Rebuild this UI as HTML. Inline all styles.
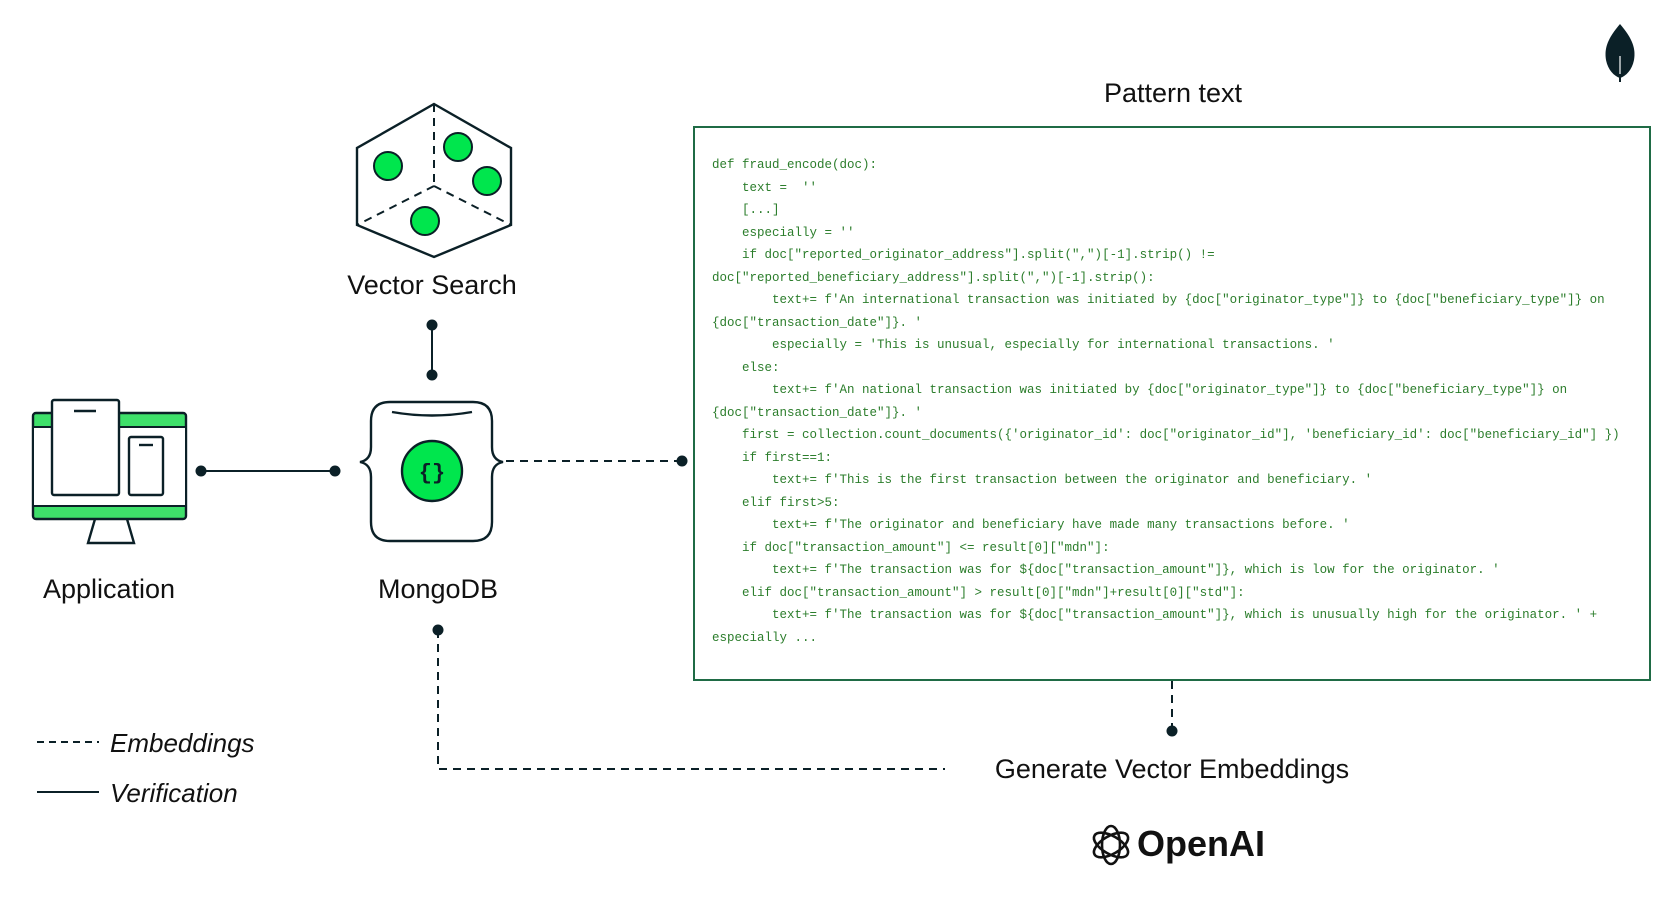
<!DOCTYPE html>
<html><head><meta charset="utf-8"><style>
html,body{margin:0;padding:0;background:#fff;}
body{width:1680px;height:910px;position:relative;overflow:hidden;font-family:"Liberation Sans",sans-serif;}
.lbl{position:absolute;font-size:27px;color:#111;white-space:nowrap;transform:translateX(-50%);line-height:1;}
.code{position:absolute;left:712px;top:154px;font-family:"Liberation Mono",monospace;font-size:12.5px;color:#2b7d2b;line-height:22.5px;white-space:pre;}
.leg{position:absolute;font-size:26px;font-style:italic;color:#111;line-height:1;}
</style></head><body>
<svg width="1680" height="910" style="position:absolute;left:0;top:0" xmlns="http://www.w3.org/2000/svg">
<g stroke="#0b2027" stroke-width="2" fill="none">
<rect x="694" y="127" width="956" height="553" stroke="#1f6b45" stroke-width="2"/>
<polygon points="434,104 511,148 511,225 434,257 357,225 357,148" stroke-width="2.4"/>
<line x1="434" y1="104" x2="434" y2="186" stroke-dasharray="8,6"/>
<line x1="434" y1="186" x2="357" y2="225" stroke-dasharray="8,6"/>
<line x1="434" y1="186" x2="511" y2="225" stroke-dasharray="8,6"/>
</g>
<g fill="#00e64d" stroke="#0b2027" stroke-width="2">
<circle cx="388" cy="166" r="14"/><circle cx="458" cy="147" r="14"/><circle cx="487" cy="181" r="14"/><circle cx="425" cy="221" r="14"/>
</g>
<line x1="432" y1="325" x2="432" y2="375" stroke="#0b2027" stroke-width="2"/>
<circle cx="432" cy="325" r="5.5" fill="#0b2027"/><circle cx="432" cy="375" r="5.5" fill="#0b2027"/>
<path d="M390,402 H473 Q492,402 492,421 V447 Q492,460 503,462 Q492,464 492,477 V522 Q492,541 473,541 H390 Q371,541 371,522 V477 Q371,464 360,462 Q371,460 371,447 V421 Q371,402 390,402 Z" fill="#fff" stroke="#0b2027" stroke-width="2.4"/>
<path d="M392,412 Q432,419 472,412" fill="none" stroke="#0b2027" stroke-width="2.4"/>
<circle cx="432" cy="471" r="30" fill="#00e64d" stroke="#0b2027" stroke-width="2.4"/>
<text x="432" y="479" font-family="Liberation Mono,monospace" font-size="22" font-weight="bold" fill="#0b2027" text-anchor="middle">{}</text>
<!-- application icon -->
<path d="M95,519 L88,543 H134 L127,519" fill="#fff" stroke="#0b2027" stroke-width="2.4"/>
<rect x="33" y="413" width="153" height="106" rx="3" fill="#3ee06a" stroke="#0b2027" stroke-width="2.4"/>
<rect x="34" y="427" width="151" height="79" fill="#fff"/>
<line x1="33" y1="427" x2="186" y2="427" stroke="#0b2027" stroke-width="2"/>
<line x1="33" y1="506" x2="186" y2="506" stroke="#0b2027" stroke-width="2"/>
<rect x="52" y="400" width="67" height="95" rx="2" fill="#fff" stroke="#0b2027" stroke-width="2.4"/>
<line x1="74" y1="411" x2="96" y2="411" stroke="#0b2027" stroke-width="2.4"/>
<rect x="129" y="437" width="34" height="58" rx="2" fill="#fff" stroke="#0b2027" stroke-width="2.4"/>
<line x1="139" y1="445" x2="153" y2="445" stroke="#0b2027" stroke-width="2.4"/>
<line x1="201" y1="471" x2="335" y2="471" stroke="#0b2027" stroke-width="2"/>
<circle cx="201" cy="471" r="5.5" fill="#0b2027"/><circle cx="335" cy="471" r="5.5" fill="#0b2027"/>
<line x1="506" y1="461" x2="682" y2="461" stroke="#0b2027" stroke-width="2" stroke-dasharray="8,6"/>
<circle cx="682" cy="461" r="5.5" fill="#0b2027"/>
<circle cx="438" cy="630" r="5.5" fill="#0b2027"/>
<polyline points="438,630 438,769 945,769" fill="none" stroke="#0b2027" stroke-width="2" stroke-dasharray="8,6"/>
<line x1="1172" y1="681" x2="1172" y2="731" stroke="#0b2027" stroke-width="2" stroke-dasharray="8,6"/>
<circle cx="1172" cy="731" r="5.5" fill="#0b2027"/>
<line x1="37" y1="742" x2="99" y2="742" stroke="#0b2027" stroke-width="2" stroke-dasharray="7,5"/>
<line x1="37" y1="792" x2="99" y2="792" stroke="#0b2027" stroke-width="2"/>
<path d="M1620,24 C1608,38 1604,48 1606,60 C1608,70 1614,76 1620,78 C1626,76 1632,70 1634,60 C1636,48 1632,38 1620,24 Z" fill="#0b2027"/>
<line x1="1620" y1="56" x2="1620" y2="82" stroke="#0b2027" stroke-width="2"/>
<line x1="1620" y1="56" x2="1620" y2="74" stroke="#fff" stroke-width="1.2"/>
<g transform="translate(1111,845)" fill="none" stroke="#111" stroke-width="2.6">
<ellipse rx="9" ry="19"/>
<ellipse rx="9" ry="19" transform="rotate(60)"/>
<ellipse rx="9" ry="19" transform="rotate(120)"/>
</g>
</svg>
<div class="lbl" style="left:1173px;top:80px;">Pattern text</div>
<div class="lbl" style="left:432px;top:272px;">Vector Search</div>
<div class="lbl" style="left:109px;top:576px;">Application</div>
<div class="lbl" style="left:438px;top:576px;">MongoDB</div>
<div class="lbl" style="left:1172px;top:756px;">Generate Vector Embeddings</div>
<div style="position:absolute;left:1137px;top:826px;font-size:36px;font-weight:bold;color:#111;line-height:1;">OpenAI</div>
<div class="leg" style="left:110px;top:730px;">Embeddings</div>
<div class="leg" style="left:110px;top:780px;">Verification</div>
<div class="code">def fraud_encode(doc):
    text =  ''
    [...]
    especially = ''
    if doc["reported_originator_address"].split(",")[-1].strip() !=
doc["reported_beneficiary_address"].split(",")[-1].strip():
        text+= f'An international transaction was initiated by {doc["originator_type"]} to {doc["beneficiary_type"]} on
{doc["transaction_date"]}. '
        especially = 'This is unusual, especially for international transactions. '
    else:
        text+= f'An national transaction was initiated by {doc["originator_type"]} to {doc["beneficiary_type"]} on
{doc["transaction_date"]}. '
    first = collection.count_documents({'originator_id': doc["originator_id"], 'beneficiary_id': doc["beneficiary_id"] })
    if first==1:
        text+= f'This is the first transaction between the originator and beneficiary. '
    elif first>5:
        text+= f'The originator and beneficiary have made many transactions before. '
    if doc["transaction_amount"] <= result[0]["mdn"]:
        text+= f'The transaction was for ${doc["transaction_amount"]}, which is low for the originator. '
    elif doc["transaction_amount"] > result[0]["mdn"]+result[0]["std"]:
        text+= f'The transaction was for ${doc["transaction_amount"]}, which is unusually high for the originator. ' +
especially ...</div>
</body></html>
